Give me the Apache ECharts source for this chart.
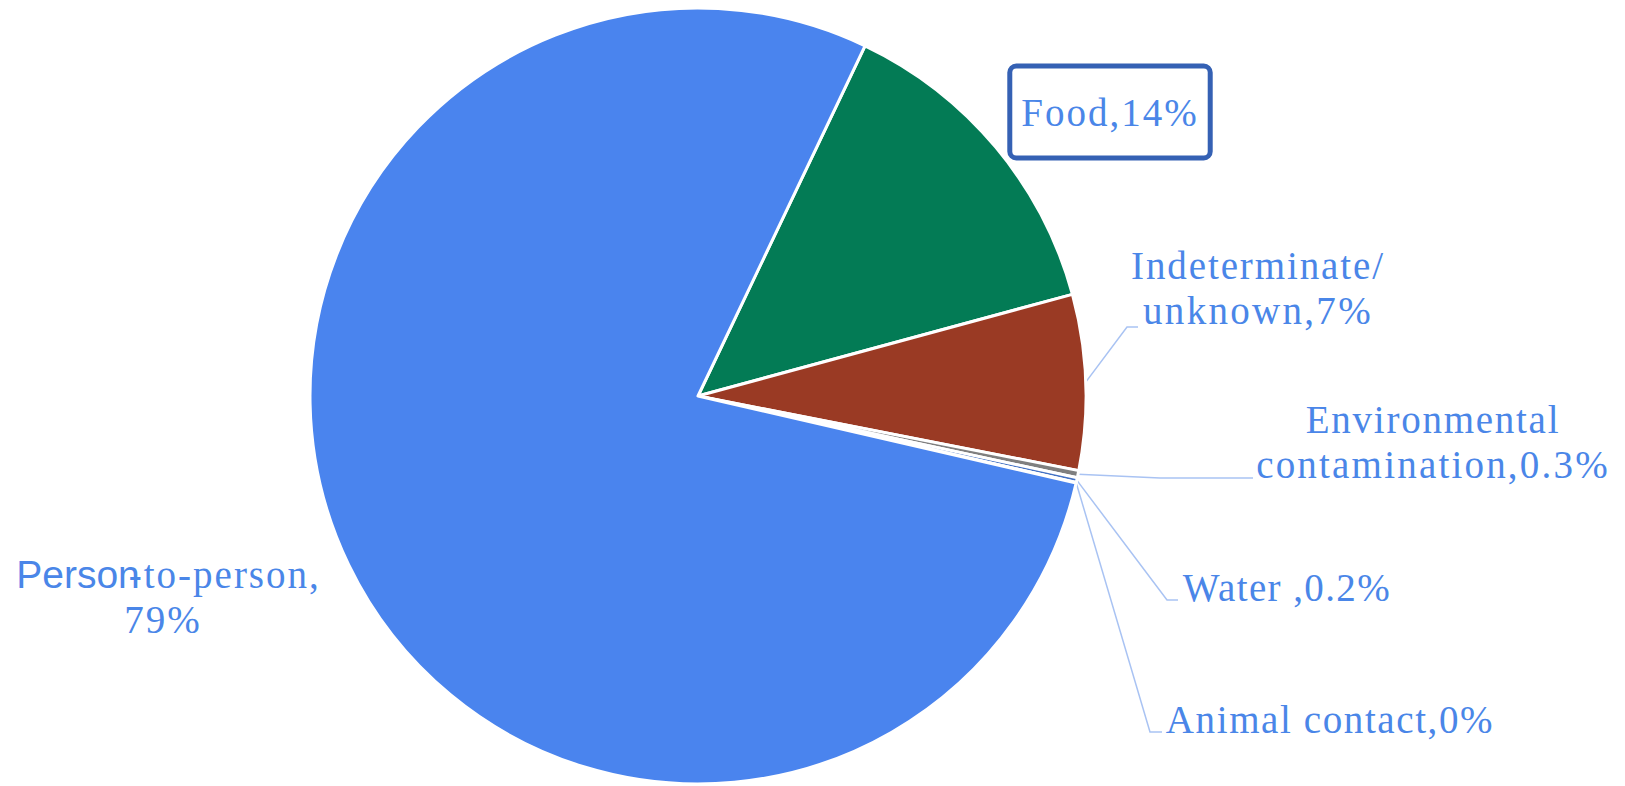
<!DOCTYPE html>
<html>
<head>
<meta charset="utf-8">
<script src="https://cdn.jsdelivr.net/npm/echarts@6/dist/echarts.min.js"></script>
<style>
  html, body { margin: 0; padding: 0; background: #ffffff; }
  #chart { width: 1625px; height: 786px; }
</style>
</head>
<body>
<div id="chart"></div>
<script>
// ---- data ----
const categories = ['Food', 'Indeterminate/\nunknown', 'Environmental\ncontamination', 'Water ', 'Animal contact', 'Person-to-person'];
const values = [13.7, 7.3, 0.3, 0.2, 0.02, 78.5];
const pctLabels = ['14%', '7%', '0.3%', '0.2%', '0%', '79%'];
const colors = ['#037B55', '#9A3A24', '#7F7F7F', '#4472C4', '#A5A5A5', '#4A84EE'];

// ---- layout (label anchors and leader elbows, in px) ----
const labelLayoutCfg = [
  { x: 1110, y: 112 },
  { x: 1258, y: 288, line: [[1127, 327], [1138, 327]] },
  { x: 1433, y: 442, line: [[1160, 478], [1253, 478]] },
  { x: 1287, y: 587, line: [[1167, 600], [1178, 600]] },
  { x: 1330, y: 719, line: [[1150, 732], [1162, 732]] },
  { x: 163, y: 597 }
];
// per-line letter spacing (px) to mimic the reference typesetting
const letterSpacingCfg = {
  'Food,14%': 2,
  'Indeterminate/': 1.9,
  'unknown,7%': 2.3,
  'Environmental': 1.75,
  'contamination,0.3%': 2.2,
  'Water ,0.2%': 1.4,
  'Animal contact,0%': 1.6,
  '-to-person,': 2,
  '79%': 2
};

const textColor = '#4A86E8';
const fontFamily = '"Liberation Serif", "DejaVu Serif", serif';
const fontSize = 39;

const seriesData = categories.map(function (name, i) {
  const item = { name: name, value: values[i], itemStyle: { color: colors[i] } };
  if (i === 0) {
    item.label = {
      borderColor: '#3561B4', borderWidth: 5, borderRadius: 4,
      padding: [21, 17], backgroundColor: '#ffffff'
    };
    item.labelLine = { show: false };
  }
  if (i === categories.length - 1) {
    item.labelLine = { show: false };
  }
  return item;
});

const chart = echarts.init(document.getElementById('chart'), null, { renderer: 'svg' });
chart.setOption({
  backgroundColor: '#ffffff',
  animation: false,
  series: [{
    type: 'pie',
    center: [698, 396],
    radius: 388,
    startAngle: 64.5,
    clockwise: true,
    avoidLabelOverlap: false,
    data: seriesData,
    itemStyle: { borderColor: '#ffffff', borderWidth: 3 },
    label: {
      show: true,
      position: 'outside',
      color: textColor,
      fontFamily: fontFamily,
      fontSize: fontSize,
      lineHeight: 45,
      align: 'center',
      formatter: function (p) {
        const i = p.dataIndex;
        if (i === categories.length - 1) {
          return '{sans|Person}-to-person,\n' + pctLabels[i];
        }
        return p.name + ',' + pctLabels[i];
      },
      rich: {
        sans: { fontFamily: '"Liberation Sans", Arial, sans-serif', fontSize: fontSize, color: textColor, lineHeight: 45 }
      }
    },
    labelLine: {
      show: true,
      lineStyle: { color: '#A9C3F3', width: 1.5 }
    },
    labelLayout: function (params) {
      const cfg = labelLayoutCfg[params.dataIndex];
      const res = { x: cfg.x, y: cfg.y, align: 'center', verticalAlign: 'middle' };
      if (cfg.line && params.labelLinePoints) {
        const start = params.labelLinePoints[0];
        res.labelLinePoints = [start, cfg.line[0], cfg.line[1]];
      }
      return res;
    }
  }]
});

function applySpacing() {
  document.querySelectorAll('#chart svg text').forEach(function (el) {
    const t = el.textContent;
    if (Object.prototype.hasOwnProperty.call(letterSpacingCfg, t)) {
      el.style.letterSpacing = letterSpacingCfg[t] + 'px';
    }
  });
}
applySpacing();
chart.on('finished', applySpacing);
</script>
</body>
</html>
